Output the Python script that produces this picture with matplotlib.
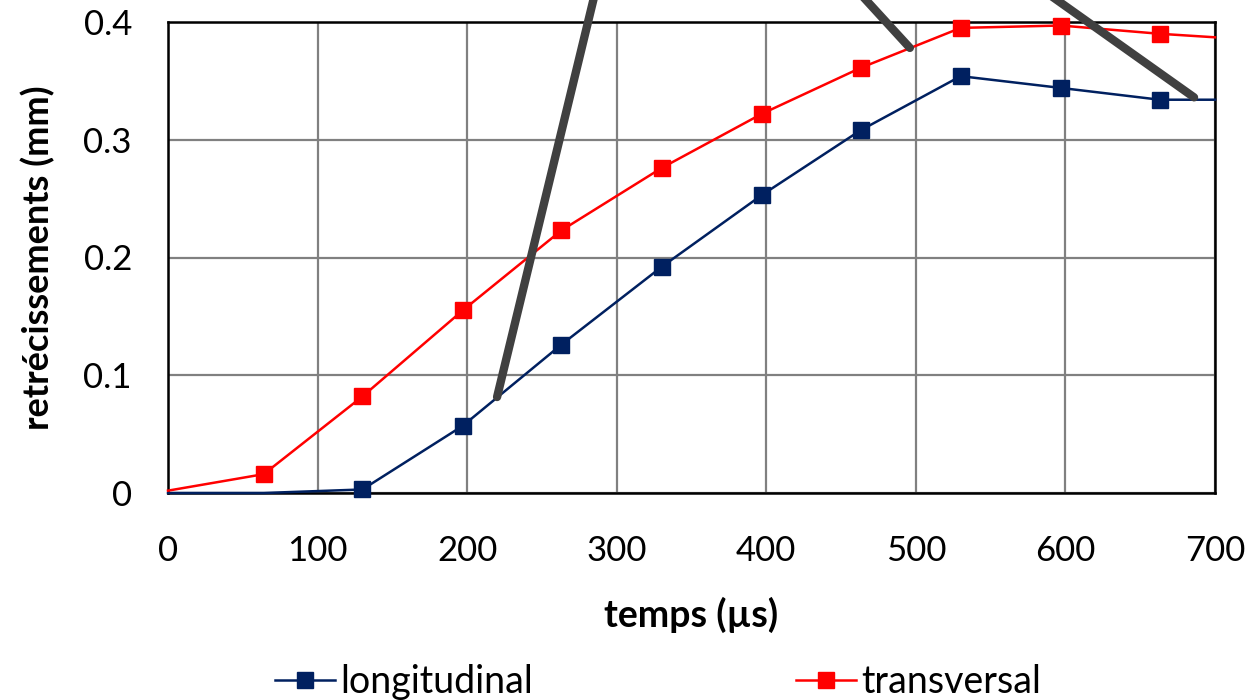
import matplotlib
matplotlib.use("Agg")
import matplotlib.pyplot as plt
from matplotlib.lines import Line2D

# ── Données ───────────────────────────────────────────────────────────────────
temps = [0, 64, 130, 197, 263, 330, 397, 463, 530, 597, 663, 700]
longitudinal = [0.0, 0.0, 0.003, 0.057, 0.126, 0.192, 0.253, 0.308, 0.354, 0.344, 0.334, 0.334]
transversal = [0.002, 0.016, 0.082, 0.155, 0.223, 0.276, 0.322, 0.361, 0.395, 0.397, 0.390, 0.387]
xticks = [0, 100, 200, 300, 400, 500, 600, 700]
yticks = [0, 0.1, 0.2, 0.3, 0.4]
ytick_labels = ["0", "0.1", "0.2", "0.3", "0.4"]

# points visés par les traits de renvoi (en données)
callouts = [(220, 0.0815), (496, 0.378), (686, 0.336)]
callout_tops = [(605, 748), (855, 712), (1040, 712)]   # bout hors cadre, en pixels figure

BLUE = "#002060"
RED = "#FF0000"

plt.rcParams["font.family"] = ["Lato", "DejaVu Sans"]

fig = plt.figure(figsize=(12.51, 7.0), dpi=100)
ax = fig.add_axes([168 / 1251, 207 / 700, 1047 / 1251, 471 / 700])

ax.plot(temps, longitudinal, color=BLUE, lw=1.8, marker="s", markersize=12,
        markevery=list(range(2, 11)), label="longitudinal", clip_on=False, zorder=3)
ax.plot(temps, transversal, color=RED, lw=1.8, marker="s", markersize=12,
        markevery=list(range(1, 11)), label="transversal", clip_on=False, zorder=3)

ax.set_xlim(0, 700)
ax.set_ylim(0, 0.4)
ax.set_xticks(xticks)
ax.set_yticks(yticks)
ax.set_yticklabels(ytick_labels)
ax.tick_params(length=0, labelsize=25)
ax.tick_params(axis="x", pad=30)
ax.tick_params(axis="y", pad=26)
ax.grid(True, color="#808080", lw=1.6)
ax.set_axisbelow(True)
for sp in ax.spines.values():
    sp.set_color("black")
    sp.set_linewidth(1.8)

ax.set_xlabel("temps (µs)", fontsize=27, fontweight="bold", labelpad=22)
ax.set_ylabel("retrécissements (mm)", fontsize=26, fontweight="bold", labelpad=20)

# traits de renvoi gris foncé
for (x, y), (fx, fy) in zip(callouts, callout_tops):
    ax.annotate("", xy=(x, y), xycoords="data", xytext=(fx, fy),
                textcoords="figure pixels",
                arrowprops=dict(arrowstyle="-", color="#404040", lw=6,
                                shrinkA=0, shrinkB=0),
                annotation_clip=False, zorder=5)

handles = [Line2D([], [], color=BLUE, lw=1.8, marker="s", markersize=12),
           Line2D([], [], color=RED, lw=1.8, marker="s", markersize=12)]
fig.legend(handles, ["longitudinal", "transversal"], loc="center",
           bbox_to_anchor=(658 / 1251, 18 / 700), ncol=2, frameon=False,
           fontsize=27, handlelength=1.6, handletextpad=0.15, columnspacing=7.0)

fig.savefig("out.png", dpi=100)
